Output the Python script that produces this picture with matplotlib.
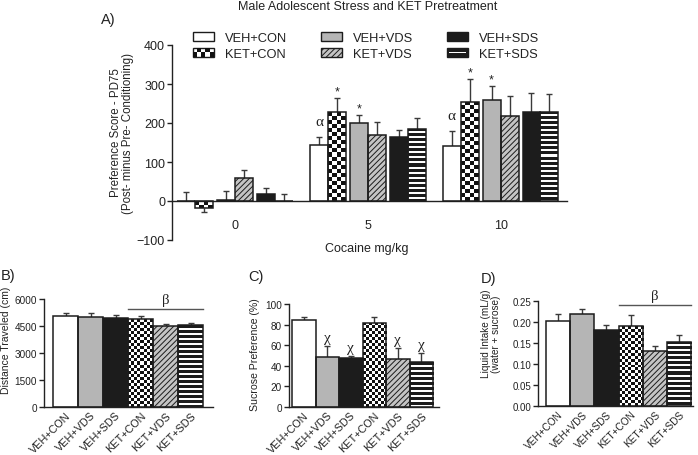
import numpy as np
import matplotlib
matplotlib.use('Agg')
import matplotlib.pyplot as plt
from matplotlib.patches import Rectangle, Patch
from matplotlib.legend_handler import HandlerBase
from matplotlib.colors import ListedColormap

plt.rcParams['font.family'] = ['Liberation Sans', 'DejaVu Sans']
plt.rcParams['hatch.linewidth'] = 0.7
plt.rcParams['axes.linewidth'] = 1.0
plt.rcParams['text.color'] = '#222222'
plt.rcParams['axes.edgecolor'] = '#222222'
plt.rcParams['xtick.color'] = '#222222'
plt.rcParams['ytick.color'] = '#222222'

# ---- data ----
groups_a = ['VEH+CON', 'KET+CON', 'VEH+VDS', 'KET+VDS', 'VEH+SDS', 'KET+SDS']
doses = ['0', '5', '10']

# preference score (mean, sem) per dose, in groups_a order
cpp_dose0 = [1, -17, 2, 59, 18, 1]
cpp_dose0_sem = [22, 12, 24, 20, 15, 18]
cpp_dose5 = [144, 228, 199, 170, 163, 185]
cpp_dose5_sem = [21, 35, 21, 32, 20, 29]
cpp_dose10 = [140, 255, 260, 217, 227, 229]
cpp_dose10_sem = [40, 58, 34, 51, 50, 45]
# annotations: dose index, group, symbol
cpp_marks = [(1, 'VEH+CON', 'α'), (1, 'KET+CON', '*'), (1, 'VEH+VDS', '*'),
             (2, 'VEH+CON', 'α'), (2, 'KET+CON', '*'), (2, 'VEH+VDS', '*')]

groups_b = ['VEH+CON', 'VEH+VDS', 'VEH+SDS', 'KET+CON', 'KET+VDS', 'KET+SDS']

distance = [5050, 5000, 4940, 4870, 4480, 4530]
distance_sem = [160, 230, 150, 160, 120, 130]

sucrose = [84.4, 48.7, 47.4, 81.8, 46.7, 43.5]
sucrose_sem = [3.2, 10.1, 2.3, 5.8, 10.7, 8.5]
sucrose_marks = ['VEH+VDS', 'VEH+SDS', 'KET+VDS', 'KET+SDS']

intake = [0.203, 0.218, 0.181, 0.190, 0.131, 0.153]
intake_sem = [0.015, 0.014, 0.013, 0.026, 0.012, 0.015]

# ---- styles ----
GRAY = '#b5b5b5'
BLACK = '#1c1c1c'
HATCH_FC = '#c4c4c4'
ERR = '#3a3a3a'
STYLE = {'VEH+CON': 'white', 'KET+CON': 'checker', 'VEH+VDS': 'gray',
         'KET+VDS': 'hatch', 'VEH+SDS': 'black', 'KET+SDS': 'stripes'}
FACE = {'white': 'white', 'checker': 'white', 'gray': GRAY,
        'hatch': HATCH_FC, 'black': BLACK, 'stripes': BLACK}

W, H = 698, 456
fig = plt.figure(figsize=(W / 100, H / 100), dpi=100)


def px_axes(left, top, right, bottom):
    return fig.add_axes([left / W, 1 - bottom / H, (right - left) / W, (bottom - top) / H])


def fill_pattern(ax, bar, kind, cell):
    bb = bar.get_window_extent()
    x0, x1 = bar.get_x(), bar.get_x() + bar.get_width()
    y0, y1 = sorted([bar.get_y(), bar.get_y() + bar.get_height()])
    if kind == 'checker':
        nx = max(1, int(round(bb.width / cell)))
        ny = max(1, int(round(bb.height / cell)))
        arr = np.indices((ny, nx)).sum(0) % 2
        cmap = ListedColormap(['white', '#111111'])
        origin = 'lower'
    else:
        ny = max(1, int(round(bb.height)))
        arr = ((np.arange(ny) % 5) >= 3).astype(int)[:, None]
        cmap = ListedColormap([BLACK, 'white'])
        origin = 'upper'
    im = ax.imshow(arr, cmap=cmap, vmin=0, vmax=1, extent=(x0, x1, y0, y1),
                   origin=origin, aspect='auto', interpolation='nearest', zorder=2.5)
    im.set_clip_path(bar)


def tip_of(v, s):
    return v - s if v < 0 else v + s


def draw_bars(ax, xs, vals, sems, names, width, cell, cap):
    for x, v, s, g in zip(xs, vals, sems, names):
        kind = STYLE[g]
        bar = ax.bar(x, v, width, color=FACE[kind], edgecolor=BLACK, linewidth=0,
                     hatch='//////' if kind == 'hatch' else None, zorder=2)[0]
        if kind in ('checker', 'stripes'):
            fill_pattern(ax, bar, kind, cell)
        ax.bar(x, v, width, fill=False, edgecolor=BLACK, linewidth=1.1, zorder=3)
        tip = tip_of(v, s)
        ax.vlines(x, v, tip, color=ERR, lw=1.0, zorder=1.5)
        ax.plot(x, tip, ls='none', marker='_', ms=cap, mew=1.0, color=ERR, zorder=1.5)


def style_axes(ax):
    for side in ('top', 'right'):
        ax.spines[side].set_visible(False)
    ax.tick_params(axis='y', direction='out', length=3.5, width=1.0, pad=1.5)


# ================= Panel A =================
axA = px_axes(172, 46, 567, 241)
axA.set_xlim(-0.474, 2.5)
axA.set_ylim(-100, 400)
style_axes(axA)
axA.spines['bottom'].set_position(('data', 0))
axA.set_yticks([-100, 0, 100, 200, 300, 400])
axA.tick_params(axis='y', labelsize=9)
axA.set_xticks(range(len(doses)))
axA.set_xticklabels(doses, fontsize=9)
axA.tick_params(axis='x', length=0, pad=13)

bw = 0.135
pair_gap = 0.03
offsets = []
for p in (-1, 0, 1):
    c = p * (2 * bw + pair_gap)
    offsets += [c - bw / 2, c + bw / 2]
offsets = np.array(offsets)

dose_vals = [cpp_dose0, cpp_dose5, cpp_dose10]
dose_sems = [cpp_dose0_sem, cpp_dose5_sem, cpp_dose10_sem]
for i, (vals, sems) in enumerate(zip(dose_vals, dose_sems)):
    draw_bars(axA, i + offsets, vals, sems, groups_a, bw, 4, 5)

for d, g, sym in cpp_marks:
    j = groups_a.index(g)
    tip = tip_of(dose_vals[d][j], dose_sems[d][j])
    if sym == '*':
        axA.annotate(sym, (d + offsets[j], tip), xytext=(0, 0.5), textcoords='offset points',
                     ha='center', va='bottom', fontsize=9)
    else:
        axA.annotate(sym, (d + offsets[j], tip), xytext=(0, 6), textcoords='offset points',
                     ha='center', va='bottom', fontsize=11, family='Liberation Serif')


# legend with custom pattern handles
class PatternHandler(HandlerBase):
    def legend_artist(self, legend, orig_handle, fontsize, handlebox):
        kind = orig_handle.get_gid()
        x0, y0 = -handlebox.xdescent, -handlebox.ydescent
        w, h = handlebox.width, handlebox.height
        tr = handlebox.get_transform()
        base = Rectangle((x0, y0), w, h, facecolor=FACE[kind], edgecolor=BLACK, lw=1.0,
                         hatch='//////' if kind == 'hatch' else None, transform=tr)
        handlebox.add_artist(base)
        if kind == 'checker':
            nx, ny = 5, 2
            for r in range(ny):
                for c in range(nx):
                    if (r + c) % 2 == 0:
                        handlebox.add_artist(Rectangle((x0 + c * w / nx, y0 + r * h / ny),
                                                       w / nx, h / ny, facecolor='#111111',
                                                       lw=0, transform=tr))
        elif kind == 'stripes':
            handlebox.add_artist(Rectangle((x0 + 1, y0 + h * 0.4), w - 2, h * 0.2,
                                           facecolor='white', lw=0, transform=tr))
        return base


handles = [Patch(gid=STYLE[g], label=g) for g in groups_a]
fig.legend(handles=handles, labels=groups_a, ncol=3, loc='upper left',
           bbox_to_anchor=(193 / W, 1 - 33 / H), frameon=False, fontsize=9.3,
           handler_map={Patch: PatternHandler()}, handlelength=1.6, handleheight=0.7,
           handletextpad=0.9, columnspacing=2.6, labelspacing=0.3,
           borderpad=0, borderaxespad=0)

fig.text(368 / W, 1 - 7 / H, 'Male Adolescent Stress and KET Pretreatment',
         ha='center', va='center', fontsize=9)
fig.text(101 / W, 1 - 20 / H, 'A)', ha='left', va='center', fontsize=10.5)
fig.text(122 / W, 1 - 133 / H, 'Preference Score - PD75\n(Post- minus Pre- Conditioning)',
         ha='center', va='center', rotation=90, fontsize=8.3, linespacing=1.05)
fig.text(367 / W, 1 - 249 / H, 'Cocaine mg/kg', ha='center', va='center', fontsize=9)


# ================= Bottom panels =================
def bottom_panel(box, xlim, ylim, yticks, fmt, vals, sems, fs_y, fs_x, cap):
    ax = px_axes(*box)
    ax.set_xlim(*xlim)
    ax.set_ylim(*ylim)
    style_axes(ax)
    ax.set_yticks(yticks)
    ax.set_yticklabels([fmt.format(t) for t in yticks], fontsize=fs_y)
    x = np.arange(len(groups_b))
    ax.set_xticks(x)
    ax.set_xticklabels(groups_b, rotation=45, ha='right', rotation_mode='anchor', fontsize=fs_x)
    ax.tick_params(axis='x', length=0, pad=2)
    draw_bars(ax, x, vals, sems, groups_b, 1.0, 3, cap)
    return ax


def beta_line(ax, y, fs):
    k0 = groups_b.index('KET+CON')
    k1 = groups_b.index('KET+SDS')
    ax.plot([k0 - 0.5, k1 + 0.5], [y, y], color='#555555', lw=1.0, clip_on=False)
    ax.annotate('β', ((k0 + k1) / 2, y), xytext=(0, 2), textcoords='offset points',
                ha='center', va='bottom', fontsize=fs, family='Liberation Serif')


axB = bottom_panel((44, 300, 213, 408), (-0.86, 5.9), (0, 6000), [0, 1500, 3000, 4500, 6000],
                   '{:.0f}', distance, distance_sem, 7.2, 7.8, 5)
beta_line(axB, 5450, 10.5)
fig.text(1 / W, 1 - 276 / H, 'B)', ha='left', va='center', fontsize=10.5)
fig.text(6 / W, 1 - 340 / H, 'Distance Traveled (cm)', ha='center', va='center',
         rotation=90, fontsize=7.5)

axC = bottom_panel((289, 305, 439, 408), (-0.628, 5.755), (0, 100), [0, 20, 40, 60, 80, 100],
                   '{:.0f}', sucrose, sucrose_sem, 7.2, 7.8, 5)
for g in sucrose_marks:
    j = groups_b.index(g)
    axC.annotate('χ', (j, sucrose[j] + sucrose_sem[j]), xytext=(0, 1.5), textcoords='offset points',
                 ha='center', va='bottom', fontsize=11, family='Liberation Serif')
fig.text(248 / W, 1 - 277 / H, 'C)', ha='left', va='center', fontsize=10.5)
fig.text(255 / W, 1 - 355 / H, 'Sucrose Preference (%)', ha='center', va='center',
         rotation=90, fontsize=7.6)

axD = bottom_panel((538, 302, 693, 407), (-0.831, 5.58), (0, 0.25),
                   [0, 0.05, 0.10, 0.15, 0.20, 0.25], '{:.2f}', intake, intake_sem, 7, 7.2, 5)
beta_line(axD, 0.2405, 10.5)
fig.text(481 / W, 1 - 279 / H, 'D)', ha='left', va='center', fontsize=10.5)
fig.text(491 / W, 1 - 334 / H, 'Liquid Intake (mL/g)\n(water + sucrose)', ha='center',
         va='center', rotation=90, fontsize=7.2, linespacing=1.0)

fig.savefig('out.png', dpi=100)
